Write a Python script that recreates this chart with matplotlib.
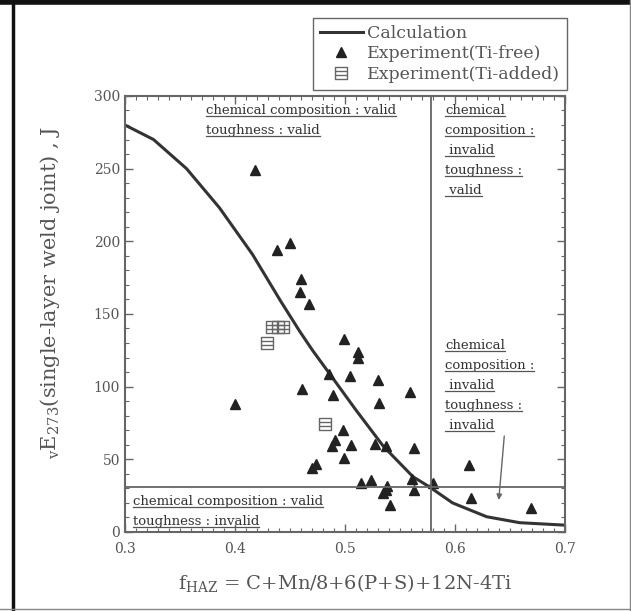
import matplotlib
matplotlib.use('Agg')
import matplotlib.pyplot as plt
from matplotlib.lines import Line2D
from matplotlib.path import Path
from matplotlib.ticker import MultipleLocator

plt.rcParams['font.family'] = ['DejaVu Serif']
plt.rcParams['mathtext.fontset'] = 'dejavuserif'

# calculated curve
curve_x = [0.300, 0.326, 0.356, 0.386, 0.416, 0.4415, 0.459, 0.4706, 0.486,
           0.510, 0.535, 0.562, 0.577, 0.598, 0.629, 0.659, 0.698]
curve_y = [280, 270, 250, 223, 191, 159, 138, 125, 109,
           84, 59, 38, 31, 20, 10.5, 6.4, 4.8]

# experiment, Ti-free
tifree_x = [0.400, 0.418, 0.438, 0.450, 0.460, 0.459, 0.467, 0.499, 0.512, 0.512,
            0.486, 0.5045, 0.530, 0.559, 0.531, 0.489, 0.461, 0.498, 0.488, 0.491,
            0.506, 0.527, 0.537, 0.563, 0.499, 0.470, 0.474, 0.515, 0.524, 0.538,
            0.535, 0.537, 0.5415, 0.561, 0.563, 0.580, 0.613, 0.615, 0.669]
tifree_y = [88, 249, 194, 199, 174, 165, 157, 133, 124, 120,
            109, 107.5, 104.5, 96, 88.6, 94, 98.4, 70, 59, 63,
            60, 60.7, 59, 58, 51, 44, 47, 33.8, 35.6, 31.5,
            26.5, 29, 18.8, 36.8, 28.8, 33.6, 45.9, 23.1, 16.5]

# experiment, Ti-added
tiadd_x = [0.434, 0.439, 0.444, 0.429, 0.482]
tiadd_y = [141, 141, 141, 130, 74]

# validity limits
limit_f = 0.578
limit_e = 31

gray = '#555555'
light = '#666666'

fig = plt.figure(figsize=(6.31, 6.11), dpi=100)
ax = fig.add_axes([0.198, 0.1293, 0.697, 0.7137])

# square with horizontal stripes for Ti-added marker
verts = [(-1, -1), (1, -1), (1, 1), (-1, 1), (-1, -1),
         (-1, -0.33), (1, -0.33), (-1, 0.33), (1, 0.33)]
codes = [Path.MOVETO, Path.LINETO, Path.LINETO, Path.LINETO, Path.CLOSEPOLY,
         Path.MOVETO, Path.LINETO, Path.MOVETO, Path.LINETO]
striped_square = Path(verts, codes)

ax.plot(curve_x, curve_y, color='#333333', lw=2.2, label='Calculation')
ax.plot(tifree_x, tifree_y, ls='none', marker='^', ms=7, color='#222222',
        label='Experiment(Ti-free)')
ax.plot(tiadd_x, tiadd_y, ls='none', marker=striped_square, ms=9, mfc='none',
        mec=light, mew=1.0, label='Experiment(Ti-added)')

ax.axvline(limit_f, color=light, lw=1.3)
ax.axhline(limit_e, color=light, lw=1.3)

ax.annotate('', xy=(0.640, 22), xytext=(0.645, 66),
            arrowprops=dict(arrowstyle='-|>', color=light, lw=1.0,
                            mutation_scale=8, shrinkA=0, shrinkB=0))

ax.set_xlim(0.3, 0.7)
ax.set_ylim(0, 300)
ax.xaxis.set_major_locator(MultipleLocator(0.1))
ax.xaxis.set_minor_locator(MultipleLocator(0.01))
ax.yaxis.set_major_locator(MultipleLocator(50))
ax.yaxis.set_minor_locator(MultipleLocator(10))
ax.tick_params(which='both', direction='in', top=True, right=True, color=light,
               labelsize=10, labelcolor=gray)
ax.tick_params(which='major', length=6, width=1)
ax.tick_params(axis='x', which='major', pad=7)
ax.tick_params(which='minor', length=3, width=0.8)
for sp in ax.spines.values():
    sp.set_color(light)
    sp.set_linewidth(1.5)

ax.set_xlabel(r'f$_{\mathrm{HAZ}}$ = C+Mn/8+6(P+S)+12N-4Ti', fontsize=14,
              color=gray, labelpad=12)
ax.set_ylabel(r'$_{\mathrm{v}}$E$_{\mathrm{273}}$(single-layer weld joint) , J',
              fontsize=15, color=gray)
ax.yaxis.set_label_coords(-0.143, 0.55)

# region notes, one text per line so each can be underlined
notes = [
    (0.374, 290, ['chemical composition : valid', 'toughness : valid']),
    (0.591, 290, ['chemical', 'composition :', ' invalid', 'toughness :', ' valid']),
    (0.591, 128, ['chemical', 'composition :', ' invalid', 'toughness :', ' invalid']),
    (0.307, 21, ['chemical composition : valid', 'toughness : invalid']),
]
line_step = 13.7
note_texts = []
for x0, y0, lines in notes:
    for i, s in enumerate(lines):
        t = ax.text(x0, y0 - i * line_step, s, fontsize=9.5, color='#333333',
                    va='center', ha='left')
        note_texts.append(t)

fig.legend(loc='upper right', bbox_to_anchor=(0.899, 0.9705), borderaxespad=0,
           fontsize=12.5, frameon=True, fancybox=False, edgecolor=light,
           framealpha=1, handlelength=2.5, handletextpad=0.25, borderpad=0.4,
           labelspacing=0.2, labelcolor=gray)

fig.canvas.draw()
inv = fig.transFigure.inverted()
for t in note_texts:
    bb = t.get_window_extent()
    (fx0, fy0), (fx1, _) = inv.transform([(bb.x0, bb.y0 + 1), (bb.x1, bb.y0 + 1)])
    fig.add_artist(Line2D([fx0, fx1], [fy0, fy0], color=gray, lw=0.9))

# outer frame of the picture
fig.add_artist(Line2D([0, 1], [0.997, 0.997], color='#111111', lw=4))
fig.add_artist(Line2D([0.021, 0.021], [0, 1], color='#111111', lw=2.5))
fig.add_artist(Line2D([0.998, 0.998], [0, 1], color='#888888', lw=1))
fig.add_artist(Line2D([0, 1], [0.004, 0.004], color='#888888', lw=1))

fig.savefig('out.png', dpi=100)
